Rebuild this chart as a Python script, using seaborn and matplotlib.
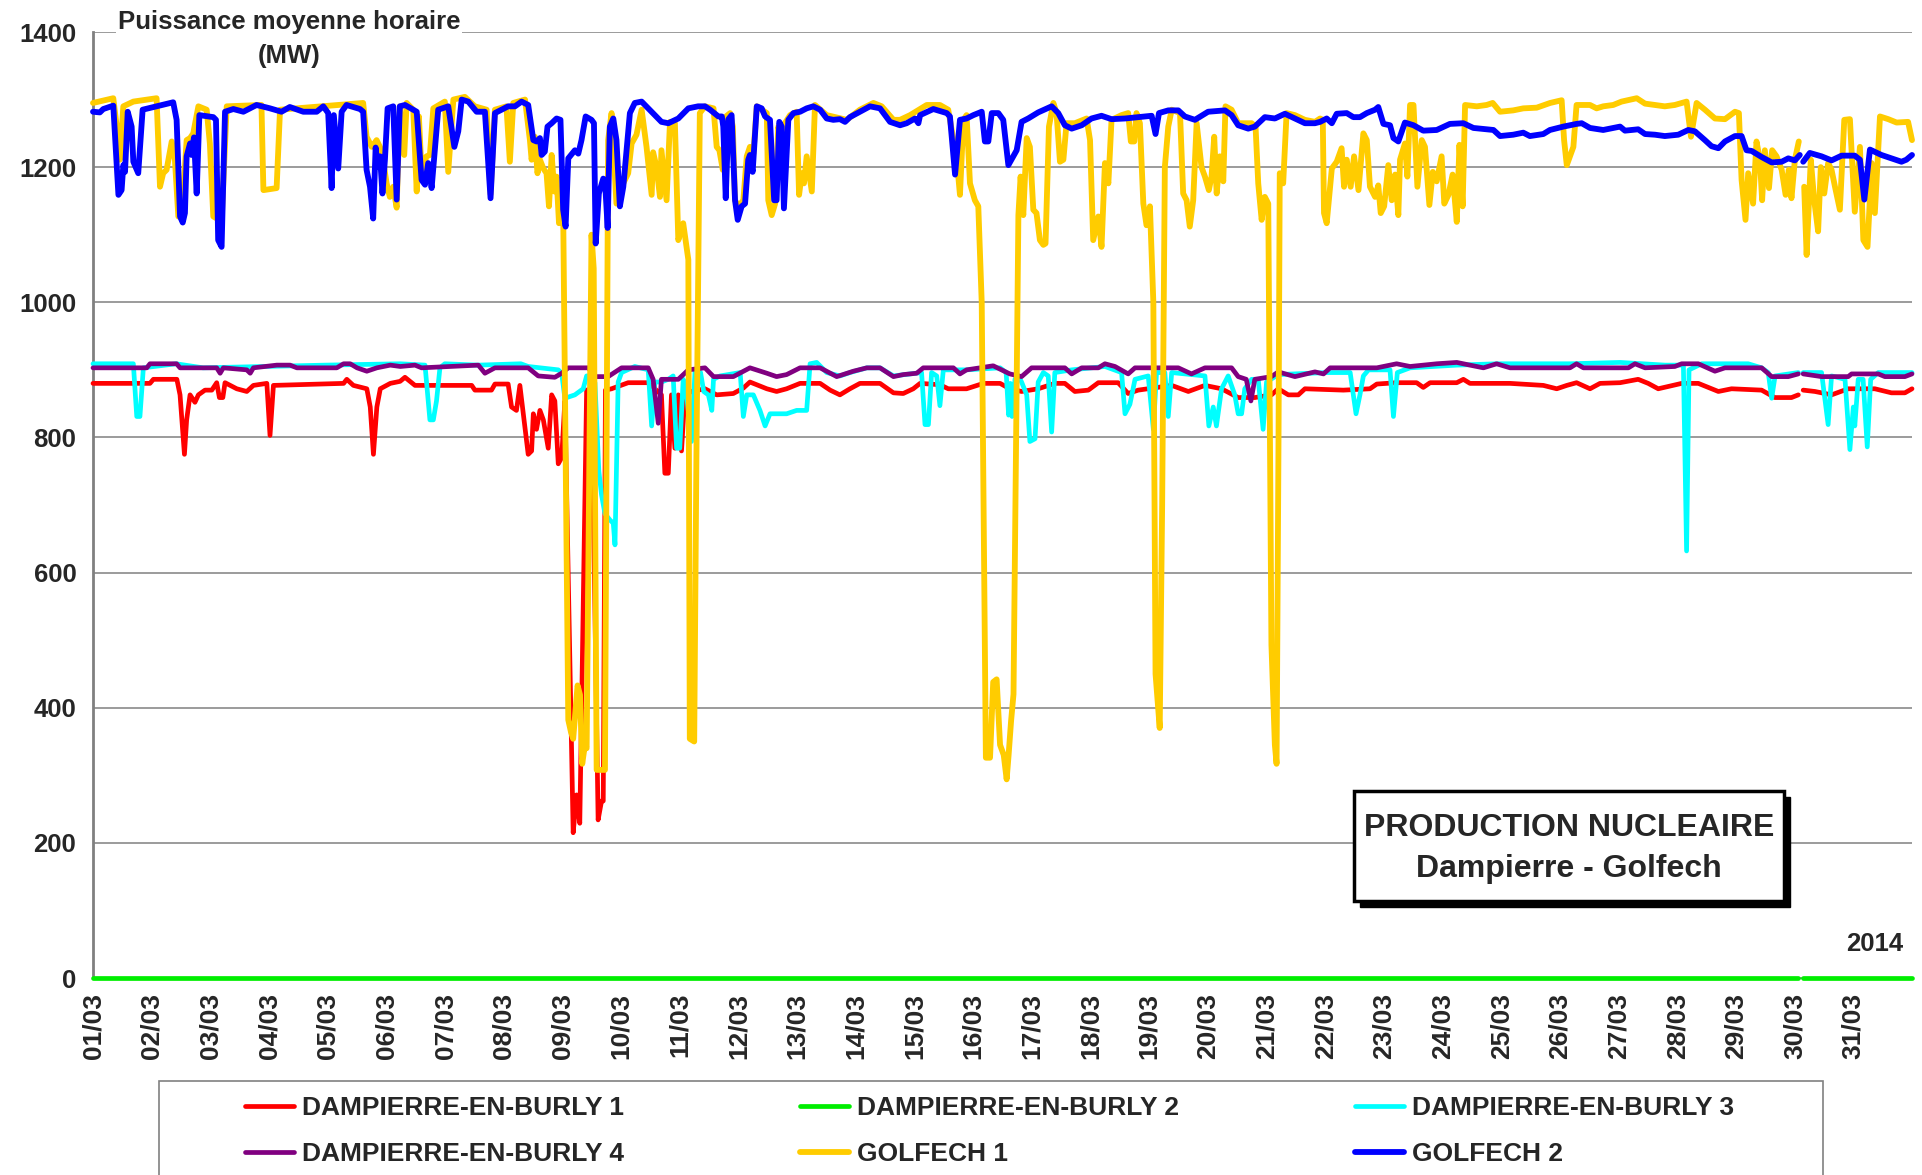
import numpy as np
import seaborn as sns
import matplotlib.pyplot as plt
from matplotlib.patches import Rectangle

# hourly mean power: (hours since 01/03 00:00, MW)
d1_pts = [(0, 880), (23.3, 880), (24.7, 886), (34.3, 886), (35.6, 863), (37.4, 775), (38.3, 826), (39.7, 863),
          (41.7, 852), (43.1, 863), (45.8, 870), (48.6, 870), (50.6, 881), (51.7, 859), (53.1, 859), (54, 881),
          (58.8, 872), (62.9, 868), (65.6, 877), (71.1, 880), (72.4, 803), (73.8, 877), (102.5, 880), (103.8, 886),
          (106.5, 877), (112, 872), (113.4, 845), (114.7, 775), (116.1, 845), (117.5, 872), (121.6, 880), (125.6, 883),
          (127.6, 889), (131.7, 877), (154.9, 877), (156.2, 870), (163, 870), (164.4, 879), (169.8, 879), (171.2, 845),
          (173.2, 840), (174.6, 877), (176, 835), (178, 775), (179.4, 780), (180.1, 835), (181.4, 812), (182.8, 840),
          (184.2, 826), (186.2, 784), (187.6, 863), (188.9, 854), (190.3, 761), (191.7, 770), (193, 854), (196.4, 215),
          (197.8, 271), (199.1, 229), (201.9, 870), (203.9, 872), (206.6, 234), (208, 262), (208.7, 262), (209.6, 870),
          (212.1, 872), (218.9, 881), (227.1, 881), (229.8, 872), (232.5, 863), (233.9, 747), (235.3, 747), (236.6, 863),
          (238, 784), (239.4, 863), (240.7, 780), (242.1, 863), (244.8, 868), (250.3, 872), (255.1, 863), (261.9, 865),
          (266, 873), (268.7, 882), (275.6, 872), (279.6, 868), (283.7, 872), (289.2, 880), (297.4, 880), (301.5, 870),
          (305.5, 863), (309.6, 872), (313.7, 880), (321.9, 880), (327.4, 866), (331.4, 865), (335.5, 872), (338.3, 880),
          (346.4, 878), (349.8, 872), (357.3, 872), (364.2, 880), (371, 880), (375, 872), (379.8, 868), (386.6, 872),
          (393.4, 880), (397.5, 880), (401.6, 868), (407.1, 870), (411.2, 881), (419.3, 881), (423.4, 865), (427.5, 870),
          (441.2, 877), (448, 868), (454.8, 877), (461.6, 872), (468.4, 859), (475.2, 859), (482, 863), (484.8, 872),
          (488.9, 863), (493, 863), (495.7, 872), (511.4, 870), (522.3, 872), (525.1, 879), (533.2, 881), (541.4, 881),
          (544.1, 874), (546.9, 881), (557.8, 881), (560.5, 886), (563.2, 880), (579.6, 880), (593.2, 877), (598.7, 872),
          (602.8, 877), (606.8, 881), (612.3, 872), (616.4, 880), (624.6, 881), (632, 886), (636.1, 880), (640.2, 872),
          (649.8, 880), (656.6, 880), (664.8, 868), (670.2, 872), (682.5, 870), (687.9, 859), (694.7, 859), (697.5, 863),
          (699.5, 870), (704.3, 868), (711.1, 863), (717.9, 872), (728.8, 872), (735.6, 866), (741.1, 866), (744, 872)]

d2_pts = [(0, 0), (697.5, 0), (699.5, 0), (744, 0)]

d3_pts = [(0, 909), (16.5, 909), (17.9, 831), (19.2, 831), (20.6, 903), (34, 909), (45, 903), (95, 907), (125.7, 909),
          (135.8, 907), (137.8, 826), (139.2, 826), (140.5, 854), (141.9, 903), (143.9, 909), (157.6, 907), (175, 909),
          (178, 905), (190.3, 900), (191.7, 895), (193, 858), (197.1, 863), (200.5, 872), (201.9, 891), (204, 891),
          (205.3, 881), (206.9, 750), (208, 715), (209.4, 687), (211.4, 678), (212.8, 673), (213.5, 641), (214.8, 882),
          (216.2, 896), (221.6, 905), (227.1, 900), (228.5, 817), (229.8, 882), (232.5, 882), (235.3, 886), (237.3, 891),
          (238.7, 784), (240, 784), (241.4, 886), (242.8, 863), (244.8, 794), (246.2, 896), (248.5, 896), (249.8, 868),
          (251.7, 863), (253.1, 840), (253.8, 886), (256.5, 891), (264.7, 896), (266, 831), (267.4, 863), (270.1, 863),
          (272.8, 840), (274.9, 817), (276.9, 835), (283.7, 835), (287.8, 840), (291.9, 840), (293.3, 909), (296, 911),
          (300.1, 896), (305.5, 891), (309.6, 896), (316.5, 903), (321.9, 903), (327.4, 891), (338.9, 896), (340.3, 819),
          (341.7, 819), (343, 896), (345.1, 891), (346.4, 847), (347.8, 900), (357.3, 900), (371, 903), (373.5, 896),
          (374.5, 833), (375.2, 880), (375.9, 831), (377.1, 886), (378.5, 891), (379.8, 882), (381.9, 863), (383.2, 794),
          (385.3, 798), (386.6, 882), (388.7, 896), (390.7, 891), (392.1, 808), (393.4, 896), (400.3, 900), (413.9, 905),
          (420.7, 896), (422.1, 835), (424.1, 849), (426.2, 886), (431.6, 891), (433.7, 812), (435, 896), (438.4, 896),
          (439.8, 831), (441.2, 896), (454.8, 891), (456.4, 817), (458.2, 845), (459.5, 817), (461.6, 872), (464.3, 891),
          (467, 863), (468.4, 835), (469.8, 835), (471.1, 872), (473.9, 886), (476.6, 886), (478.6, 812), (480, 882),
          (484.8, 893), (504.6, 896), (514.2, 896), (516.6, 835), (518.2, 863), (519.6, 891), (521.7, 900), (530.5, 900),
          (531.9, 831), (533.5, 896), (538.7, 903), (557.8, 907), (574.1, 909), (604.1, 909), (624.6, 911), (643, 907),
          (650.5, 907), (651.8, 632), (652.8, 900), (658, 909), (677, 909), (682.5, 903), (685.2, 896), (686.6, 858),
          (688, 891), (697.5, 896), (699.5, 896), (707, 896), (709.7, 819), (711.1, 891), (716.6, 886), (718.6, 782),
          (720, 845), (720.6, 817), (722, 886), (724, 886), (725.7, 786), (727.1, 886), (730.2, 896), (744, 896)]

d4_pts = [(0, 903), (22, 903), (23.3, 909), (34.2, 909), (35.6, 903), (50.6, 903), (52, 895), (53.3, 903), (62.9, 900),
          (64.3, 895), (65.6, 903), (75.2, 907), (80.6, 907), (83.4, 903), (99.7, 903), (102.5, 909), (105.2, 909),
          (108, 903), (112, 898), (116.1, 903), (121.6, 907), (125.7, 905), (131.7, 907), (134.4, 903), (157.6, 907),
          (160.3, 895), (164.4, 903), (178, 903), (182.1, 891), (188.9, 889), (191.7, 895), (194.4, 903), (202.6, 903),
          (205.3, 890), (210.7, 890), (216.2, 903), (227.1, 903), (229.1, 886), (231.2, 821), (232.5, 886), (239.4, 886),
          (243.5, 900), (250.3, 903), (253.8, 890), (261.9, 890), (268.7, 903), (275.6, 895), (279.6, 890), (283.7, 893),
          (289.2, 903), (297.4, 903), (304.2, 890), (311, 898), (316.5, 903), (321.9, 903), (327.4, 890), (331.4, 893),
          (336.9, 895), (339.6, 903), (351.9, 903), (354.6, 894), (357.3, 900), (362.8, 903), (368.2, 906), (375, 894),
          (379.8, 890), (383.9, 903), (397.5, 903), (400.3, 894), (404.4, 903), (411.2, 903), (413.9, 909), (418, 905),
          (423.4, 894), (426.2, 903), (443.9, 903), (449.3, 894), (454.8, 903), (465.7, 903), (468.4, 890), (471.7, 886),
          (473.6, 854), (475.2, 886), (482, 890), (484.8, 897), (491.6, 890), (499.8, 897), (503.3, 894), (506, 903),
          (525.1, 903), (533.2, 909), (538.7, 905), (549.6, 909), (557.8, 911), (563.2, 907), (568.7, 903), (574.1, 909),
          (579.6, 903), (604.1, 903), (606.8, 909), (609.6, 903), (624.6, 903), (628, 903), (630.7, 909), (634.8, 903),
          (647, 905), (649.8, 909), (656.6, 909), (663.4, 898), (667.5, 903), (682.5, 903), (686.6, 890), (693.4, 890),
          (697.5, 894), (699.5, 894), (707, 890), (717.9, 890), (719.3, 894), (730.2, 894), (732.9, 890), (741.1, 890),
          (744, 894)]

g1_pts = [(0, 1295), (8.3, 1302), (9.7, 1260), (11, 1211), (12.4, 1290), (16.5, 1297), (26, 1302), (27.4, 1171),
          (28.7, 1191), (30.1, 1196), (32.2, 1238), (33.5, 1211), (34.9, 1127), (36.3, 1127), (38.3, 1240), (39.7, 1243),
          (41, 1250), (43.1, 1290), (46.5, 1285), (47.8, 1235), (49.2, 1127), (52.6, 1120), (54.7, 1290), (68.9, 1292),
          (69.7, 1166), (75.1, 1169), (76.5, 1285), (110.5, 1295), (111.9, 1245), (114, 1230), (116, 1240), (118, 1225),
          (120.1, 1176), (121.4, 1156), (122.8, 1171), (124.2, 1140), (125.5, 1290), (127.3, 1218), (128.3, 1295),
          (131, 1285), (132.4, 1164), (133.3, 1275), (134.4, 1191), (136.4, 1216), (137.8, 1218), (139.2, 1287),
          (143.9, 1297), (145.3, 1193), (147.4, 1300), (152.1, 1304), (156.2, 1290), (161, 1285), (162.6, 1160),
          (164.4, 1285), (169.1, 1290), (170.5, 1208), (171.9, 1295), (176.7, 1300), (178.7, 1240), (179.4, 1211),
          (180.7, 1245), (181.8, 1191), (182.8, 1211), (184.2, 1198), (185.5, 1191), (186.5, 1142), (187.6, 1218),
          (188.7, 1164), (189.6, 1186), (190.6, 1117), (192.3, 1137), (194.4, 382), (195.5, 364), (196.4, 354),
          (198.2, 433), (199.2, 419), (200.1, 317), (201.2, 345), (201.9, 340), (203.9, 1100), (204.8, 1050), (206, 308),
          (209.4, 308), (210.7, 1240), (212.1, 1280), (214.1, 1146), (216.2, 1171), (218.9, 1191), (220.3, 1235),
          (222.3, 1248), (224.4, 1285), (226.4, 1230), (228.5, 1159), (229.1, 1222), (230.5, 1200), (231.9, 1156),
          (232.5, 1225), (234.6, 1151), (236, 1267), (238, 1265), (239.4, 1092), (241.4, 1117), (243.5, 1063),
          (244.1, 354), (245.9, 350), (246.8, 770), (248.2, 1280), (250.3, 1290), (253.8, 1287), (255.1, 1230),
          (256.2, 1225), (257.6, 1196), (258.9, 1275), (260.6, 1280), (261.7, 1260), (262.6, 1151), (264, 1142),
          (266, 1151), (267.4, 1216), (268.7, 1230), (270.1, 1220), (271.5, 1290), (275.6, 1280), (276.2, 1151),
          (277.6, 1129), (279, 1146), (280.3, 1260), (281.7, 1240), (283, 1265), (285.1, 1277), (287.8, 1282),
          (288.8, 1159), (289.9, 1191), (290.8, 1176), (291.9, 1216), (294, 1164), (295.3, 1292), (300.1, 1277),
          (308.3, 1270), (313.7, 1285), (319.2, 1295), (322.6, 1290), (327.4, 1270), (330.1, 1270), (334.2, 1277),
          (341, 1292), (346.4, 1292), (349.8, 1285), (353.3, 1211), (354.6, 1159), (356, 1270), (357.3, 1277),
          (358.7, 1176), (360.7, 1151), (362.1, 1142), (363.5, 1000), (365.2, 326), (366.9, 326), (368.2, 438),
          (369.6, 442), (371, 345), (372.5, 330), (373.7, 294), (374.5, 330), (375.5, 380), (376.5, 420), (377.3, 700),
          (378.2, 1000), (378.5, 1129), (379.4, 1186), (380.5, 1129), (381.9, 1243), (383.2, 1230), (384.6, 1137),
          (385.9, 1132), (387.3, 1092), (388.7, 1085), (389.6, 1087), (391, 1260), (392.8, 1295), (394.1, 1280),
          (395.5, 1208), (396.9, 1211), (398.2, 1265), (401.6, 1265), (406.4, 1272), (407.8, 1240), (409.1, 1092),
          (411.2, 1127), (412.5, 1082), (413.9, 1206), (415.3, 1176), (416.6, 1270), (420.7, 1277), (423.4, 1280),
          (424.5, 1238), (425.9, 1238), (426.8, 1280), (428.2, 1265), (429.6, 1146), (430.9, 1114), (432.3, 1142),
          (433.7, 1000), (434.6, 450), (436.3, 370), (437.3, 700), (438.4, 1200), (439.8, 1260), (441.2, 1285),
          (444.6, 1280), (445.9, 1161), (447.3, 1151), (448.6, 1112), (450, 1151), (451.4, 1265), (453.4, 1200),
          (454.8, 1186), (456.4, 1166), (457.5, 1186), (458.6, 1245), (459.6, 1161), (460.9, 1216), (462.3, 1179),
          (463.2, 1290), (465.7, 1285), (468.4, 1265), (473.9, 1265), (475.5, 1260), (476.6, 1176), (478, 1122),
          (479.3, 1156), (480.7, 1146), (482, 493), (483.4, 345), (484.1, 317), (484.9, 800), (485.4, 1191),
          (486.8, 1176), (488.2, 1280), (491.6, 1277), (495.7, 1270), (499.8, 1267), (501.9, 1272), (503, 1270),
          (503.5, 1132), (504.6, 1117), (505.7, 1160), (506.7, 1198), (508.7, 1208), (510.7, 1228), (511.7, 1171),
          (512.8, 1211), (514.4, 1171), (515.8, 1216), (517.6, 1166), (519.6, 1250), (521, 1240), (522.3, 1171),
          (524.4, 1156), (525.7, 1173), (526.7, 1132), (528.1, 1142), (529.8, 1203), (531.2, 1151), (532.6, 1189),
          (533.9, 1129), (534.6, 1211), (536.6, 1235), (537.6, 1186), (538.7, 1292), (540.1, 1292), (541.7, 1171),
          (543.5, 1240), (544.8, 1230), (546.6, 1144), (548, 1193), (549.6, 1179), (551.6, 1216), (552.7, 1146),
          (554.4, 1159), (556.1, 1189), (557.8, 1119), (558.9, 1233), (560.2, 1142), (561.2, 1292), (566, 1290),
          (570, 1292), (572.5, 1295), (575.5, 1282), (580.9, 1284), (585, 1287), (590.5, 1288), (596, 1295),
          (600.7, 1299), (601.7, 1240), (602.8, 1203), (605.5, 1230), (606.8, 1292), (612.3, 1292), (615, 1287),
          (617.7, 1290), (621.8, 1292), (625.2, 1297), (631.4, 1302), (634.8, 1294), (642.9, 1290), (647, 1292),
          (651.8, 1297), (653.6, 1245), (655.9, 1295), (659.3, 1285), (663.4, 1272), (667.5, 1271), (671.6, 1282),
          (673.2, 1280), (674.3, 1181), (675.9, 1122), (677, 1191), (679, 1146), (680.4, 1238), (681.8, 1211),
          (682.7, 1151), (683.8, 1225), (685.5, 1169), (686.8, 1225), (688.6, 1216), (690.7, 1196), (692.3, 1159),
          (693.6, 1196), (694.7, 1154), (696.1, 1211), (697.7, 1238), (699.9, 1171), (700.9, 1070), (702.6, 1211),
          (704, 1151), (705.6, 1105), (706.7, 1200), (708.1, 1161), (709.7, 1206), (711.1, 1196), (712.5, 1171),
          (714.5, 1137), (716.3, 1270), (718.6, 1271), (720.6, 1134), (722.7, 1230), (724.1, 1092), (725.8, 1082),
          (727.5, 1206), (728.8, 1132), (730.9, 1275), (734.3, 1271), (737.7, 1266), (742.4, 1267), (744, 1240)]

g2_pts = [(0, 1282), (2.8, 1281), (4.2, 1286), (8.3, 1291), (10.4, 1159), (11.7, 1166), (12.4, 1203), (13.1, 1193),
          (14.2, 1282), (15.8, 1260), (16.5, 1208), (18.5, 1191), (20.3, 1285), (26, 1290), (32.8, 1296), (34.2, 1270),
          (35.6, 1127), (36.7, 1118), (37.6, 1132), (38.3, 1216), (39.7, 1235), (40.3, 1218), (41.3, 1244), (42.4, 1161),
          (43.5, 1277), (49.2, 1274), (50.3, 1270), (51.2, 1092), (52.6, 1082), (54, 1282), (57.4, 1286), (61.5, 1282),
          (64.2, 1287), (66.9, 1292), (72.4, 1287), (77.1, 1282), (80.5, 1289), (86, 1282), (91.5, 1282), (94.2, 1290),
          (96.2, 1280), (97.6, 1169), (98.5, 1277), (100.3, 1198), (101.7, 1282), (103.7, 1292), (109.2, 1286),
          (110.5, 1282), (111.9, 1196), (113.3, 1171), (114.6, 1124), (115.6, 1229), (116.4, 1201), (117.4, 1216),
          (118.4, 1161), (119.4, 1211), (120.5, 1287), (122.8, 1290), (124.2, 1152), (125.5, 1290), (127.6, 1292),
          (131, 1285), (132.4, 1282), (134.4, 1181), (135.8, 1174), (137.1, 1206), (138.5, 1169), (141.2, 1285),
          (145.3, 1290), (147.8, 1230), (149.4, 1253), (150.8, 1300), (153.5, 1297), (156.9, 1282), (160.3, 1282),
          (162.6, 1154), (164.4, 1280), (167.1, 1285), (169.8, 1290), (172.6, 1290), (175.3, 1297), (178, 1292),
          (180.1, 1240), (181.4, 1238), (182.8, 1243), (183.5, 1218), (184.8, 1223), (185.9, 1260), (187.6, 1265),
          (189.6, 1272), (191.2, 1270), (192.3, 1137), (193.3, 1112), (194.4, 1213), (197.1, 1225), (198.5, 1220),
          (199.8, 1240), (201.5, 1275), (203.9, 1270), (204.9, 1265), (205.6, 1087), (206.9, 1161), (208.7, 1183),
          (209.4, 1181), (210.5, 1110), (211.4, 1260), (212.8, 1272), (214.1, 1240), (215.5, 1142), (216.9, 1171),
          (218.2, 1223), (219.6, 1280), (221.6, 1295), (224.4, 1297), (227.1, 1287), (232.5, 1267), (235.3, 1265),
          (239.4, 1272), (243.5, 1287), (247.5, 1290), (250.3, 1290), (252.4, 1285), (255.8, 1275), (257.2, 1275),
          (257.8, 1260), (258.8, 1154), (259.9, 1271), (261.2, 1277), (262.6, 1151), (263.7, 1122), (265.3, 1142),
          (266.7, 1146), (268, 1211), (268.7, 1218), (269.8, 1193), (271.5, 1290), (273.5, 1287), (274.9, 1275),
          (276.9, 1270), (278.6, 1151), (279.6, 1151), (280.7, 1267), (281.7, 1260), (282.6, 1139), (284.4, 1270),
          (286.5, 1280), (289.2, 1282), (291.9, 1287), (294.6, 1290), (297.4, 1285), (300.1, 1272), (302.8, 1270),
          (305.5, 1271), (307.6, 1267), (309.6, 1274), (313.7, 1282), (317.8, 1290), (321.9, 1287), (326, 1267),
          (330.1, 1262), (332.8, 1265), (336.2, 1272), (337.6, 1265), (338.3, 1277), (343.7, 1286), (349.2, 1280),
          (350.5, 1275), (352.6, 1189), (354.6, 1270), (357.3, 1272), (360.1, 1277), (363.5, 1282), (364.8, 1238),
          (366.2, 1238), (367.6, 1280), (370.3, 1280), (372.3, 1270), (374.4, 1203), (377.8, 1225), (379.8, 1267),
          (382.5, 1272), (386.6, 1281), (392.1, 1290), (394.8, 1280), (397.5, 1262), (400.3, 1257), (404.4, 1262),
          (408.4, 1272), (412.5, 1276), (416.6, 1271), (422.1, 1272), (427.5, 1274), (433, 1276), (434.6, 1249),
          (436, 1280), (439.8, 1284), (443.9, 1284), (446.6, 1275), (450.7, 1270), (456.1, 1282), (463, 1284),
          (465.7, 1277), (468.4, 1262), (472.5, 1257), (475.2, 1260), (479.3, 1274), (483.4, 1272), (487.5, 1279),
          (491.6, 1272), (495.7, 1265), (499.8, 1265), (501.9, 1267), (504.6, 1272), (506.7, 1265), (508.7, 1279),
          (512.8, 1280), (515.5, 1274), (518.2, 1274), (521, 1280), (524.4, 1285), (525.7, 1289), (527.8, 1264),
          (530.5, 1262), (531.9, 1243), (533.9, 1238), (536.6, 1266), (540.1, 1262), (544.1, 1254), (549.6, 1255),
          (555, 1264), (560.5, 1265), (564.6, 1258), (572.8, 1255), (575.5, 1246), (580.9, 1248), (585, 1251),
          (587.7, 1246), (593.2, 1249), (595.9, 1255), (601.4, 1260), (606.8, 1264), (608.9, 1265), (612.3, 1258),
          (617.7, 1255), (624.6, 1260), (626.6, 1254), (632, 1256), (634.8, 1249), (638.9, 1248), (642.9, 1246),
          (648.4, 1248), (652.5, 1255), (655.2, 1253), (659.3, 1240), (662, 1231), (664.8, 1228), (667.5, 1238),
          (671.6, 1246), (674.3, 1246), (676.3, 1225), (678.4, 1224), (682.5, 1215), (686.6, 1207), (690.7, 1208),
          (693.4, 1213), (696.1, 1210), (698.1, 1218), (699.5, 1208), (702.2, 1221), (707, 1216), (711.1, 1210),
          (715.2, 1217), (720.6, 1217), (722.7, 1211), (724.5, 1152), (726.8, 1226), (731.5, 1218), (735.6, 1213),
          (739.7, 1208), (741.7, 1211), (744, 1218)]

units = ["DAMPIERRE-EN-BURLY 1", "DAMPIERRE-EN-BURLY 2", "DAMPIERRE-EN-BURLY 3",
         "DAMPIERRE-EN-BURLY 4", "GOLFECH 1", "GOLFECH 2"]
colors = ["#FF0000", "#00EE00", "#00FFFF", "#800080", "#FFCC00", "#0000FF"]
day_labels = [f"{d:02d}/03" for d in range(1, 32)]
dst_hour = 698.5  # summer time change, one hour missing on 30/03

sns.set_style("white")
plt.rcParams['font.family'] = ['Liberation Sans', 'DejaVu Sans']
plt.rcParams['font.weight'] = 'bold'

W, H = 1922, 1175
fig = plt.figure(figsize=(W / 100, H / 100), dpi=100)
ax = fig.add_axes([93 / W, 1 - 978 / H, (1912 - 93) / W, (978 - 32) / H])

all_pts = [d1_pts, d2_pts, d3_pts, d4_pts, g1_pts, g2_pts]
widths = [3.4, 3.4, 3.4, 3.4, 4.2, 4.2]
for i, (name, pts, c, lw) in enumerate(zip(units, all_pts, colors, widths)):
    h = np.array([p[0] for p in pts])
    mw = np.array([p[1] for p in pts])
    seg = (h > dst_hour).astype(int)
    sns.lineplot(x=h, y=mw, units=seg, estimator=None, sort=False, color=c, lw=lw,
                 ax=ax, label=name, clip_on=False, zorder=3 + i)

ax.set_xlim(0, 744)
ax.set_ylim(0, 1400)
ax.set_xticks(np.arange(0, 745, 24))
ax.set_xticklabels(day_labels + [""], rotation=90, fontsize=19, fontweight="bold")
ax.set_yticks(np.arange(0, 1401, 200))
ax.set_yticklabels([str(v) for v in range(0, 1401, 200)], fontsize=18.5, fontweight="bold")
ax.set_xlabel("")
ax.set_ylabel("")
ax.yaxis.grid(True, color="#808080", lw=1.1)
ax.xaxis.grid(False)
ax.set_axisbelow(True)
for s in ["top", "right"]:
    ax.spines[s].set_visible(False)
ax.spines["left"].set_color("#808080")
ax.spines["left"].set_linewidth(2)
ax.spines["bottom"].set_color("#808080")
ax.tick_params(axis="both", direction="out", length=4.5, width=1.5, color="#808080", pad=6)
ax.tick_params(axis="y", pad=7.5)

fig.text(289 / W, 1 - 39 / H, "Puissance moyenne horaire\n(MW)", ha="center", va="center",
         fontsize=18.5, fontweight="bold", linespacing=1.5,
         bbox=dict(facecolor="white", edgecolor="none", pad=1))

# title box with shadow
bx, by, bw, bh = 1354 / W, 1 - 901 / H, 430 / W, 110 / H
fig.patches.append(Rectangle((bx + 6 / W, by - 6 / H), bw, bh, transform=fig.transFigure,
                             facecolor="black", edgecolor="black", zorder=5))
fig.patches.append(Rectangle((bx, by), bw, bh, transform=fig.transFigure,
                             facecolor="white", edgecolor="black", lw=2.5, zorder=6))
fig.text(1569 / W, 1 - 828 / H, "PRODUCTION NUCLEAIRE", ha="center", va="center",
         fontsize=23, fontweight="bold", zorder=7)
fig.text(1569 / W, 1 - 869 / H, "Dampierre - Golfech", ha="center", va="center",
         fontsize=23, fontweight="bold", zorder=7)
fig.text(1875 / W, 1 - 944 / H, "2014", ha="center", va="center", fontsize=18.5, fontweight="bold")

# legend, row-major like the original
handles, labels = ax.get_legend_handles_labels()
by_label = dict(zip(labels, handles))
order = [0, 3, 1, 4, 2, 5]
ax.legend([by_label[units[i]] for i in order], [units[i] for i in order], ncol=3,
          loc="upper left", bbox_to_anchor=(245 / W, 1 - 1096 / H), bbox_transform=fig.transFigure,
          frameon=False, fontsize=19, handlelength=1.85, handletextpad=0.3, columnspacing=6.68,
          labelspacing=0.85, borderpad=0, borderaxespad=0)
fig.patches.append(Rectangle((159 / W, -0.02), (1823 - 159) / W, 0.02 + 1 - 1081 / H,
                             transform=fig.transFigure, fill=False, edgecolor="#808080", lw=1.2))

fig.savefig("out.png", dpi=100)
